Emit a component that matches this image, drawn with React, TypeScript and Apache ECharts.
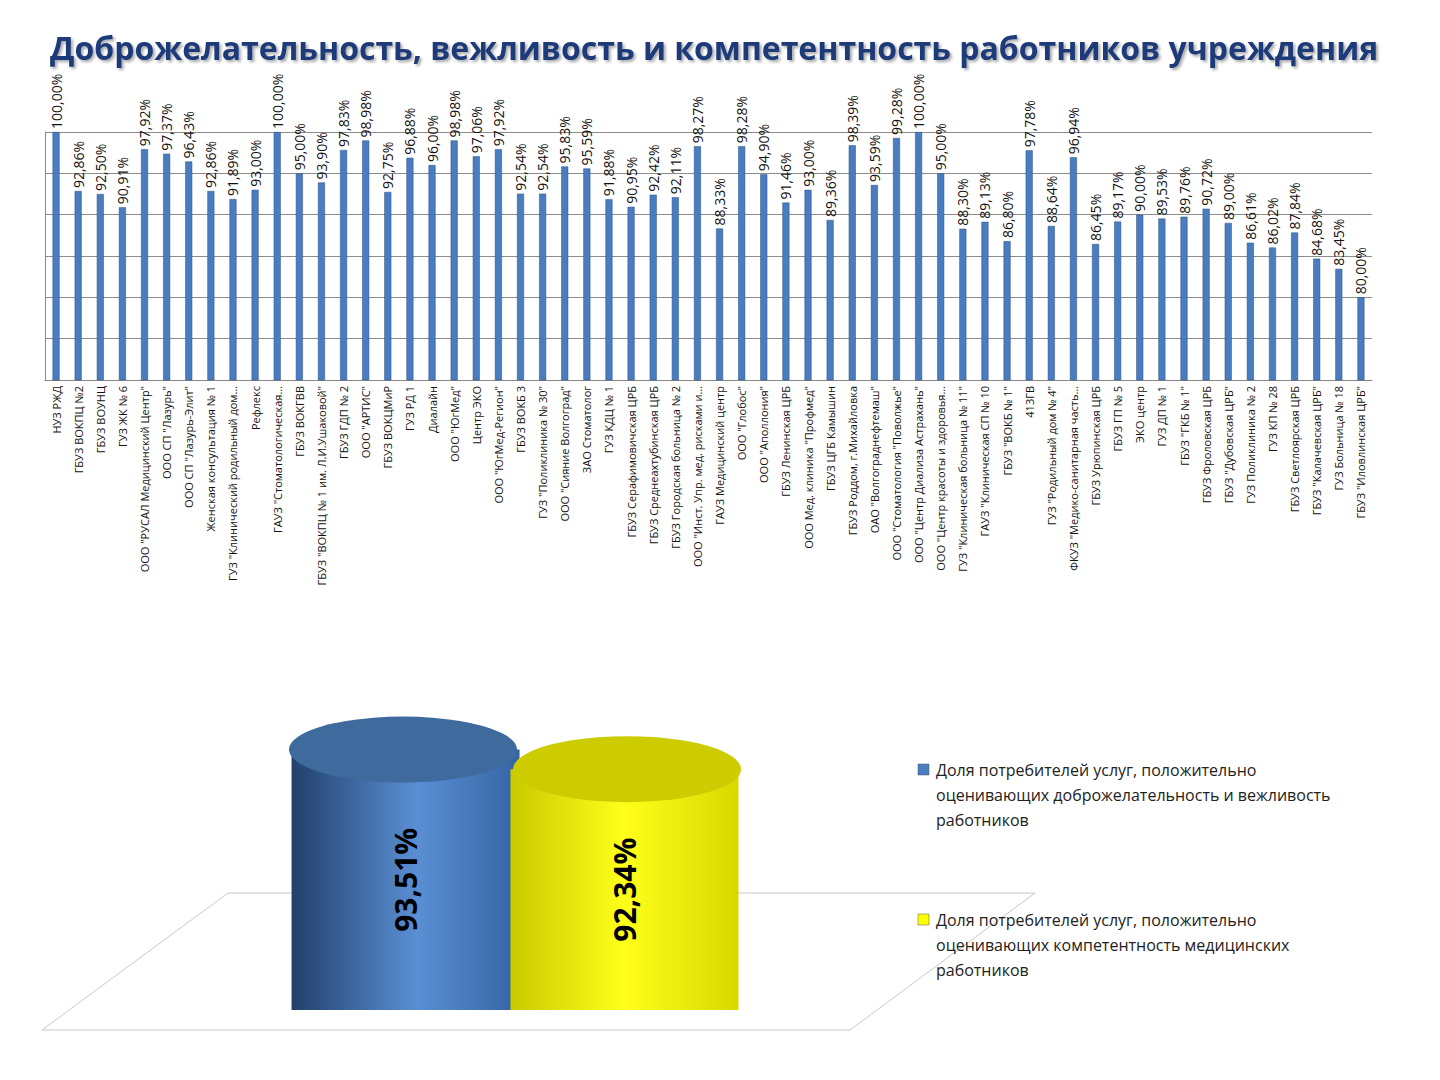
import { useEffect, useRef } from "react";
import * as echarts from "echarts";

const categories = [
  "НУЗ РЖД", "ГБУЗ ВОКПЦ №2", "ГБУЗ ВОУНЦ", "ГУЗ ЖК № 6", "ООО \"РУСАЛ Медицинский Центр\"",
  "ООО СП \"Лазурь\"", "ООО СП \"Лазурь-Элит\"", "Женская консультация № 1", "ГУЗ \"Клинический родильный дом…",
  "Рефлекс", "ГАУЗ \"Стоматологическая…", "ГБУЗ ВОКГВВ", "ГБУЗ \"ВОКПЦ № 1 им. Л.И.Ушаковой\"",
  "ГБУЗ ГДП № 2", "ООО \"АРТИС\"", "ГБУЗ ВОКЦМиР", "ГУЗ РД 1", "Диалайн", "ООО \"ЮгМед\"", "Центр ЭКО",
  "ООО \"ЮгМед-Регион\"", "ГБУЗ ВОКБ 3", "ГУЗ \"Поликлиника № 30\"", "ООО \"Сияние Волгоград\"",
  "ЗАО Стоматолог", "ГУЗ КДЦ № 1", "ГБУЗ Серафимовичская ЦРБ", "ГБУЗ Среднеахтубинская ЦРБ",
  "ГБУЗ Городская больница № 2", "ООО \"Инст. Упр. мед. рисками и…", "ГАУЗ Медицинский центр",
  "ООО \"Глобос\"", "ООО \"Аполлония\"", "ГБУЗ Ленинская ЦРБ", "ООО Мед. клиника \"Профмед\"",
  "ГБУЗ ЦГБ Камышин", "ГБУЗ Роддом, г.Михайловка", "ОАО \"Волгограднефтемаш\"",
  "ООО \"Стоматология \"Поволжье\"", "ООО \"Центр Диализа Астрахань\"", "ООО \"Центр красоты и здоровья…",
  "ГУЗ \"Клиническая больница № 11\"", "ГАУЗ \"Клиническая СП № 10", "ГБУЗ \"ВОКБ № 1\"", "413ГВ",
  "ГУЗ \"Родильный дом № 4\"", "ФКУЗ \"Медико-санитарная часть…", "ГБУЗ Урюпинская ЦРБ", "ГБУЗ ГП № 5",
  "ЭКО центр", "ГУЗ ДП № 1", "ГБУЗ \"ГКБ № 1\"", "ГБУЗ Фроловская ЦРБ", "ГБУЗ \"Дубовская ЦРБ\"",
  "ГУЗ Поликлиника № 2", "ГУЗ КП № 28", "ГБУЗ Светлоярская ЦРБ", "ГБУЗ \"Калачевская ЦРБ\"",
  "ГУЗ Больница № 18", "ГБУЗ \"Иловлинская ЦРБ\"",
];

const values = [
  100.0, 92.86, 92.5, 90.91, 97.92, 97.37, 96.43, 92.86, 91.89, 93.0,
  100.0, 95.0, 93.9, 97.83, 98.98, 92.75, 96.88, 96.0, 98.98, 97.06,
  97.92, 92.54, 92.54, 95.83, 95.59, 91.88, 90.95, 92.42, 92.11, 98.27,
  88.33, 98.28, 94.9, 91.46, 93.0, 89.36, 98.39, 93.59, 99.28, 100.0,
  95.0, 88.3, 89.13, 86.8, 97.78, 88.64, 96.94, 86.45, 89.17, 90.0,
  89.53, 89.76, 90.72, 89.0, 86.61, 86.02, 87.84, 84.68, 83.45, 80.0,
];

const summaryNames = [
  "Доля потребителей услуг, положительно\nоценивающих доброжелательность и вежливость\nработников",
  "Доля потребителей услуг, положительно\nоценивающих компетентность медицинских\nработников",
];
const summaryValues = [93.51, 92.34];

const fmt = (v: number) => v.toFixed(2).replace(".", ",") + "%";

export default function App() {
  const ref = useRef<HTMLDivElement | null>(null);

  useEffect(() => {
    document.body.style.margin = "0";
    const chart = echarts.init(ref.current!, undefined, { renderer: "svg" });
    const font = "'Open Sans', 'Liberation Sans', sans-serif";
    const blueBody = () => new echarts.graphic.LinearGradient(0, 0, 1, 0, [
      { offset: 0, color: "#22406b" }, { offset: 0.55, color: "#5a8fd4" }, { offset: 1, color: "#3564a3" },
    ]);
    const yellowBody = () => new echarts.graphic.LinearGradient(0, 0, 1, 0, [
      { offset: 0, color: "#c9c900" }, { offset: 0.5, color: "#ffff1a" }, { offset: 1, color: "#d8d800" },
    ]);
    const cylLabel = {
      show: true, position: "inside", rotate: 90, fontSize: 30, fontWeight: "bold",
      color: "#000", formatter: (p: any) => fmt(p.value),
    };
    const legendText = (y: number, text: string, color: string) => [
      { type: "rect", shape: { x: 918, y: y + 7, width: 11, height: 11 }, style: { fill: color, stroke: "#555", lineWidth: 0.5 } },
      { type: "text", x: 936, y, style: { text, fontSize: 16, lineHeight: 25, fill: "#222", fontFamily: font } },
    ];
    chart.setOption({
      animation: false,
      textStyle: { fontFamily: font },
      title: {
        text: "Доброжелательность, вежливость и компетентность работников учреждения",
        left: 45, top: 26,
        textStyle: {
          fontSize: 32, fontWeight: "bold", color: "#1f3a78", fontFamily: font,
          textShadowColor: "rgba(0,0,0,0.35)", textShadowBlur: 3, textShadowOffsetX: 2, textShadowOffsetY: 2,
        },
      },
      grid: [
        { left: 45, right: 68, top: 132, bottom: 700 },
        { left: 165, right: 575, top: 700, bottom: 70 },
      ],
      xAxis: [
        {
          gridIndex: 0, type: "category", data: categories,
          axisTick: { show: false }, axisLine: { lineStyle: { color: "#888" } },
          axisLabel: { rotate: 90, interval: 0, fontSize: 11, color: "#111", margin: 6 },
        },
        { gridIndex: 1, type: "category", data: [""], show: false },
      ],
      yAxis: [
        {
          gridIndex: 0, type: "value", min: 70, max: 100, interval: 5,
          axisLabel: { show: false }, axisTick: { show: false },
          axisLine: { show: true, lineStyle: { color: "#888" } },
          splitLine: { lineStyle: { color: "#8c8c8c" } },
        },
        { gridIndex: 1, type: "value", min: 78, max: 96.46, show: false },
      ],
      graphic: [
        {
          type: "polygon", z: -1,
          shape: { points: [[42, 1030], [228, 893], [1035, 893], [850, 1030]] },
          style: { fill: "none", stroke: "#c8c8c8", lineWidth: 1 },
        },
        ...legendText(757, summaryNames[0], "#4a7cc0"),
        ...legendText(907, summaryNames[1], "#ffff00"),
      ],
      series: [
        {
          type: "bar", xAxisIndex: 0, yAxisIndex: 0, data: values, barWidth: 7,
          itemStyle: { color: "#4a7cc0", borderColor: "#2c4f80", borderWidth: 0.5 },
          label: {
            show: true, position: "top", rotate: 90, align: "left", verticalAlign: "middle",
            distance: 3, fontSize: 14, color: "#111", formatter: (p: any) => fmt(p.value),
          },
        },
        {
          name: summaryNames[0], type: "bar", xAxisIndex: 1, yAxisIndex: 1,
          data: [summaryValues[0]], barWidth: 228, barGap: "-4%",
          itemStyle: { color: blueBody() }, label: cylLabel, z: 2,
        },
        {
          name: summaryNames[1], type: "bar", xAxisIndex: 1, yAxisIndex: 1,
          data: [summaryValues[1]], barWidth: 228, barGap: "-4%",
          itemStyle: { color: yellowBody() }, label: cylLabel, z: 4,
        },
        {
          type: "pictorialBar", xAxisIndex: 1, yAxisIndex: 1, data: [summaryValues[0]],
          symbol: "circle", symbolSize: [228, 66], symbolPosition: "start", symbolOffset: [-112, "50%"],
          itemStyle: { color: blueBody() }, z: 1, silent: true,
        },
        {
          type: "pictorialBar", xAxisIndex: 1, yAxisIndex: 1, data: [summaryValues[0]],
          symbol: "circle", symbolSize: [228, 66], symbolPosition: "end", symbolOffset: [-112, "-50%"],
          itemStyle: { color: "#3f6a9e" }, z: 3, silent: true,
        },
        {
          type: "pictorialBar", xAxisIndex: 1, yAxisIndex: 1, data: [summaryValues[1]],
          symbol: "circle", symbolSize: [228, 66], symbolPosition: "start", symbolOffset: [112, "50%"],
          itemStyle: { color: yellowBody() }, z: 3, silent: true,
        },
        {
          type: "pictorialBar", xAxisIndex: 1, yAxisIndex: 1, data: [summaryValues[1]],
          symbol: "circle", symbolSize: [228, 66], symbolPosition: "end", symbolOffset: [112, "-50%"],
          itemStyle: { color: "#cccc00" }, z: 5, silent: true,
        },
      ],
    });
    return () => chart.dispose();
  }, []);

  return <div ref={ref} style={{ width: 1440, height: 1080, background: "#fff" }} />;
}
